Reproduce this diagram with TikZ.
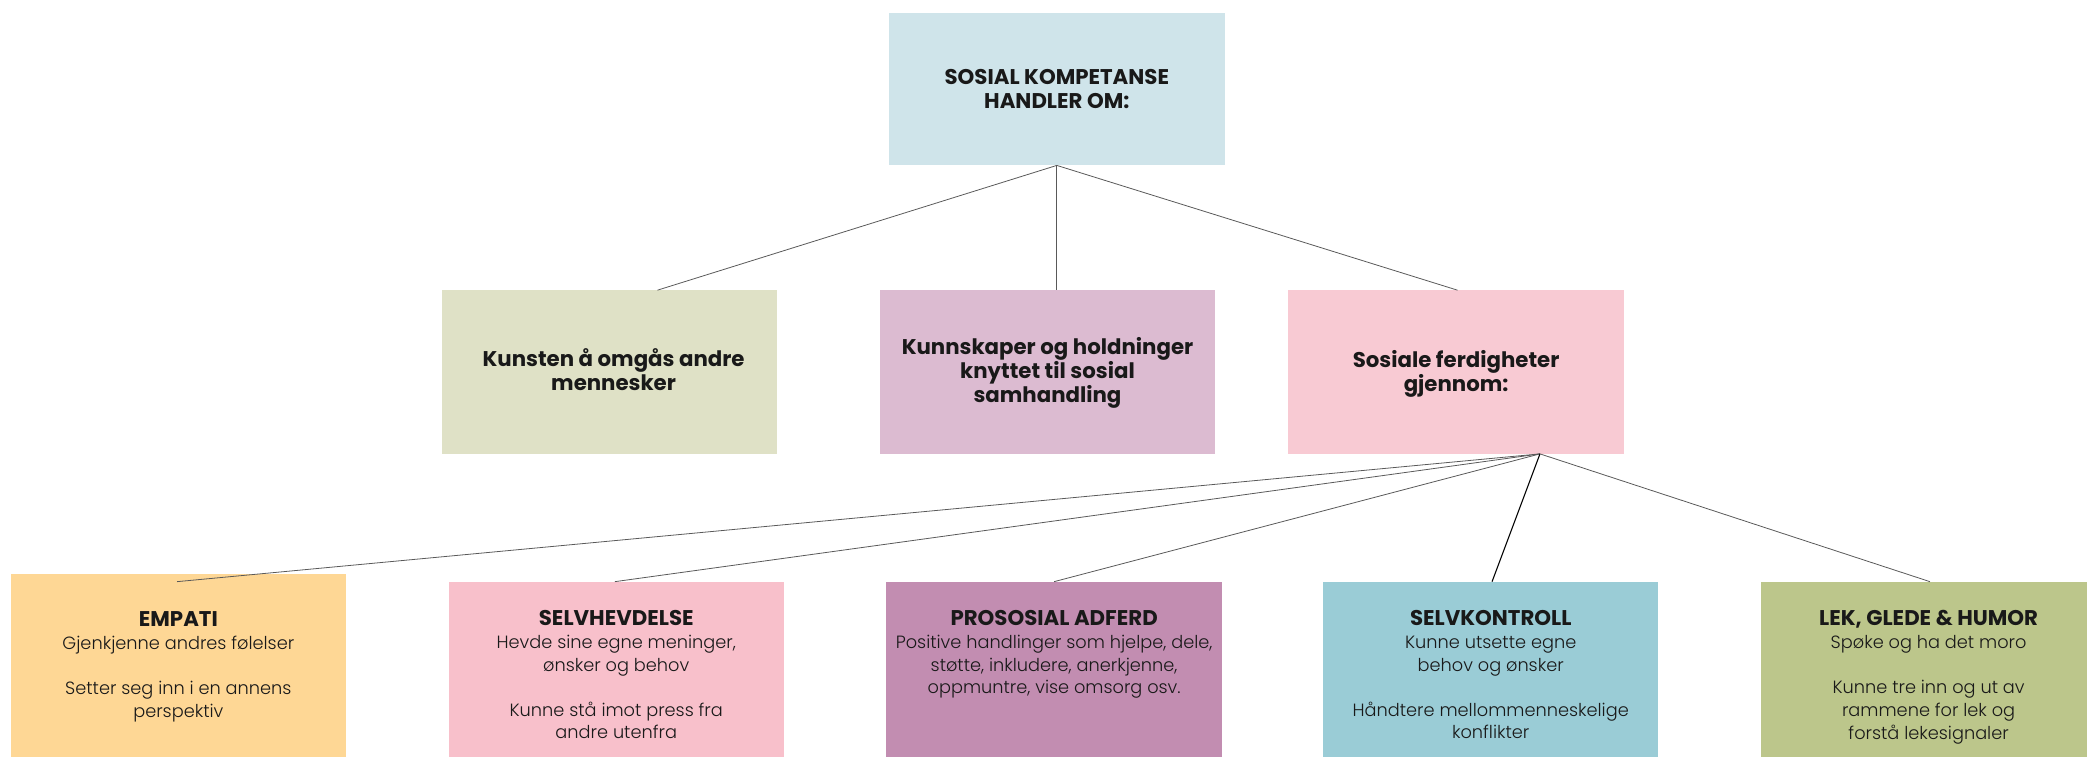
\documentclass[tikz,border=0pt]{standalone}
\usepackage{fontspec}
\setmainfont{Poppins}
\newfontfamily\lightfont{Poppins Light}

\definecolor{topblue}{HTML}{CFE4EA}
\definecolor{paleolive}{HTML}{DFE1C6}
\definecolor{palemauve}{HTML}{DCBBD1}
\definecolor{palepink}{HTML}{F8CAD3}
\definecolor{orange}{HTML}{FED795}
\definecolor{pink}{HTML}{F8C0CB}
\definecolor{mauve}{HTML}{C28DB1}
\definecolor{teal}{HTML}{9ACCD6}
\definecolor{olive}{HTML}{BCC68B}

\tikzset{
  box/.style={rectangle, inner sep=0pt, minimum width=189pt},
  head/.style={font=\bfseries\fontsize{12}{13.5}\selectfont, align=center, text=black!90},
  body/.style={anchor=north, inner sep=0pt, align=center, text=black!90,
    font=\lightfont\fontsize{10}{12.75}\selectfont},
  link/.style={line width=0.45pt, black!65},
}

\begin{document}
\begin{tikzpicture}[x=0.75pt, y=-0.75pt]
  \useasboundingbox (0,0) rectangle (1568,569);
  \clip (0,0) rectangle (1568,569);

  % top
  \node[box, fill=topblue, minimum height=85.5pt] (top) at (794,67) {};
  \node[head] (toptxt) at (794,67) {SOSIAL KOMPETANSE\\HANDLER OM:};

  % middle row
  \node[box, fill=paleolive, minimum height=92.25pt] (omgaas) at (458,279.5) {};
  \node[box, fill=palemauve, minimum height=92.25pt] (kunnskap) at (787,279.5) {};
  \node[box, fill=palepink, minimum height=92.25pt] (ferdig) at (1094,279.5) {};
  \node[head] (omgaastxt) at (461,278) {Kunsten å omgås andre\\mennesker};
  \node[head] (kunnskaptxt) at (787,280) {Kunnskaper og holdninger\\knyttet til sosial\\samhandling};
  \node[head] (ferdigtxt) at (1094,281) {Sosiale ferdigheter\\gjennom:};

  \coordinate (omgaasin) at (494,218);
  \coordinate (kunnskapin) at (794,218);
  \coordinate (ferdigin) at (1095,218);
  \draw[link] (top.south) -- (omgaasin);
  \draw[link] (top.south) -- (kunnskapin);
  \draw[link] (top.south) -- (ferdigin);

  % bottom row
  \node[box, fill=orange, minimum height=103.5pt] (empati) at (134,500) {};
  \node[box, fill=pink, minimum height=99pt] (selvhevd) at (463,503) {};
  \node[box, fill=mauve, minimum height=99pt] (prosos) at (792,503) {};
  \node[box, fill=teal, minimum height=99pt] (selvkontr) at (1120,503) {};
  \node[box, fill=olive, minimum height=99pt] (lek) at (1449,503) {};

  \node[body] (empatitxt) at (134,459.5) {{\normalfont\bfseries\fontsize{12}{13.5}\selectfont EMPATI}\\
    Gjenkjenne andres følelser\\[12.75pt]
    Setter seg inn i en annens\\perspektiv};
  \node[body] (selvhevdtxt) at (463,458.5) {{\normalfont\bfseries\fontsize{12}{13.5}\selectfont SELVHEVDELSE}\\
    Hevde sine egne meninger,\\ønsker og behov\\[12.75pt]
    Kunne stå imot press fra\\andre utenfra};
  \node[body] (prosostxt) at (792,458.5) {{\normalfont\bfseries\fontsize{12}{13.5}\selectfont PROSOSIAL ADFERD}\\
    Positive handlinger som hjelpe, dele,\\støtte, inkludere, anerkjenne,\\oppmuntre, vise omsorg osv.};
  \node[body] (selvkontrtxt) at (1120,458.5) {{\normalfont\bfseries\fontsize{12}{13.5}\selectfont SELVKONTROLL}\\
    Kunne utsette egne\\behov og ønsker\\[12.75pt]
    Håndtere mellommenneskelige\\konflikter};
  \node[body] (lektxt) at (1449,458.5) {{\normalfont\bfseries\fontsize{12}{13.5}\selectfont LEK, GLEDE \& HUMOR}\\
    Spøke og ha det moro\\[12.75pt]
    Kunne tre inn og ut av\\rammene for lek og\\forstå lekesignaler};

  \coordinate (ferdigout) at (1157,341);
  \coordinate (empatiin) at (133,437);
  \coordinate (selvhevdin) at (462,437);
  \coordinate (prososin) at (792,437);
  \coordinate (selvkontrin) at (1121,437);
  \coordinate (lekin) at (1450,437);
  \draw[link] (ferdigout) -- (empatiin);
  \draw[link] (ferdigout) -- (selvhevdin);
  \draw[link] (ferdigout) -- (prososin);
  \draw[link, black, line width=0.6pt] (ferdigout) -- (selvkontrin);
  \draw[link] (ferdigout) -- (lekin);
\end{tikzpicture}
\end{document}
